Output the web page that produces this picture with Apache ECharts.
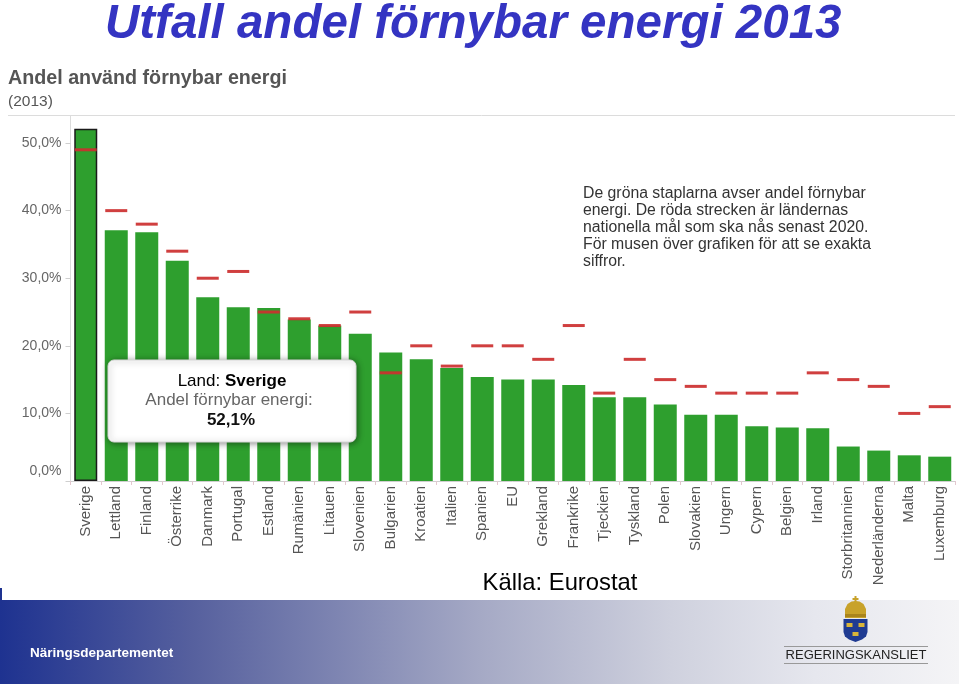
<!DOCTYPE html>
<html><head><meta charset="utf-8">
<script src="https://cdn.jsdelivr.net/npm/echarts@6/dist/echarts.min.js"></script>
<style>html,body{margin:0;padding:0;background:#fff}#c{width:959px;height:684px}</style>
</head><body><div id="c"></div>
<script>
const countries = ['Sverige','Lettland','Finland','Österrike','Danmark','Portugal','Estland','Rumänien','Litauen','Slovenien','Bulgarien','Kroatien','Italien','Spanien','EU','Grekland','Frankrike','Tjeckien','Tyskland','Polen','Slovakien','Ungern','Cypern','Belgien','Irland','Storbritannien','Nederländerna','Malta','Luxemburg'];
const shares = [52.1,37.1,36.8,32.6,27.2,25.7,25.6,23.9,23.0,21.8,19.0,18.0,16.7,15.4,15.0,15.0,14.2,12.4,12.4,11.3,9.8,9.8,8.1,7.9,7.8,5.1,4.5,3.8,3.6];
const targets = [49,40,38,34,30,31,25,24,23,25,16,20,17,20,20,18,23,13,18,15,14,13,13,13,16,15,14,10,11];
const yTickValues = [0,10,20,30,40,50];
const noteLines = ['De gröna staplarna avser andel förnybar','energi. De röda strecken är ländernas','nationella mål som ska nås senast 2020.','För musen över grafiken för att se exakta','siffror.'];

const fmt = v => v.toFixed(1).replace('.', ',') + '%';
const chart = echarts.init(document.getElementById('c'), null, {renderer: 'canvas'});
const FF = '"Liberation Sans", Arial, sans-serif';

const barData = shares.map((v, i) => i === 0
  ? {value: v, itemStyle: {borderColor: '#1a1a1a', borderWidth: 1.5}}
  : v);

chart.setOption({
  animation: false,
  backgroundColor: '#ffffff',
  textStyle: {fontFamily: FF},
  title: [{
    text: 'Utfall andel förnybar energi 2013',
    left: 100, top: -4,
    textStyle: {fontSize: 47.5, fontWeight: 'bold', fontStyle: 'italic', color: '#3434c2', fontFamily: FF}
  }, {
    text: 'Andel använd förnybar energi',
    subtext: '(2013)',
    left: 3, top: 64, itemGap: 5,
    textStyle: {fontSize: 19.7, fontWeight: 'bold', color: '#555', fontFamily: FF},
    subtextStyle: {fontSize: 15.5, color: '#555', fontFamily: FF}
  }],
  grid: {left: 70.5, right: 4, top: 116, bottom: 203, containLabel: false},
  xAxis: {
    type: 'category',
    data: countries,
    axisLine: {lineStyle: {color: '#cfcfcf'}},
    axisTick: {show: true, length: 4, lineStyle: {color: '#e3c8cf'}},
    axisLabel: {rotate: 90, margin: 5, fontSize: 15, color: '#555', fontFamily: FF, interval: 0}
  },
  yAxis: {
    type: 'value', min: 0, max: 54, interval: 10,
    splitLine: {show: false},
    axisLine: {show: true, lineStyle: {color: '#dcdcdc'}},
    axisTick: {show: true, length: 5, lineStyle: {color: '#cfcfcf'}},
    axisLabel: {
      showMaxLabel: false, margin: 9, fontSize: 14, color: '#666', fontFamily: FF,
      formatter: v => yTickValues.includes(v) ? (v === 0 ? '{z|' + fmt(v) + '}' : fmt(v)) : '',
      rich: {z: {fontSize: 14, color: '#666', fontFamily: FF, padding: [0, 0, 20, 0]}}
    }
  },
  series: [{
    type: 'bar',
    data: barData,
    barWidth: 23,
    itemStyle: {color: '#2e9f2e'},
    z: 2
  }, {
    type: 'scatter',
    data: targets,
    symbol: 'rect',
    symbolSize: [22, 3],
    itemStyle: {color: '#cc2f2f', opacity: 0.92},
    z: 3
  }],
  graphic: [
    {type: 'line', shape: {x1: 8, y1: 115.5, x2: 955, y2: 115.5}, style: {stroke: '#dcdcdc', lineWidth: 1}, z: 1},
    {type: 'rect', shape: {x: 108, y: 360, width: 248, height: 82, r: 6},
      style: {fill: '#ffffff', stroke: '#d8d8d8', lineWidth: 1, shadowBlur: 6, shadowColor: 'rgba(0,0,0,0.45)', shadowOffsetX: 1, shadowOffsetY: 1}, z: 10},
    {type: 'text', x: 232, y: 381, z: 11,
      style: {text: '{g|Land: }{b|' + countries[0] + '}', align: 'center', verticalAlign: 'middle',
        rich: {g: {fontSize: 17, color: '#666', fontFamily: FF}, b: {fontSize: 17, fontWeight: 'bold', color: '#111', fontFamily: FF}}}},
    {type: 'text', x: 229, y: 400, z: 11,
      style: {text: 'Andel förnybar energi:', fontSize: 17, fill: '#666', fontFamily: FF, align: 'center', verticalAlign: 'middle'}},
    {type: 'text', x: 231, y: 420, z: 11,
      style: {text: fmt(shares[0]), fontSize: 17, fontWeight: 'bold', fill: '#111', fontFamily: FF, align: 'center', verticalAlign: 'middle'}},
    {type: 'text', x: 583, y: 185, z: 11,
      style: {text: noteLines.join('\n'), fontSize: 15.8, lineHeight: 17, fill: '#333', fontFamily: FF, align: 'left', verticalAlign: 'top'}},
    {type: 'text', x: 560, y: 583, z: 11,
      style: {text: 'Källa: Eurostat', fontSize: 23.8, fill: '#000', fontFamily: FF, align: 'center', verticalAlign: 'middle'}},
    {type: 'rect', shape: {x: 0, y: 600, width: 959, height: 84}, z: 0,
      style: {fill: {type: 'linear', x: 0, y: 0, x2: 1, y2: 0, colorStops: [
        {offset: 0, color: '#1e3290'},
        {offset: 0.2, color: '#56609e'},
        {offset: 0.5, color: '#a5a9c5'},
        {offset: 0.7, color: '#cfd1de'},
        {offset: 0.85, color: '#e6e7ee'},
        {offset: 1, color: '#f4f4f6'}
      ]}}},
    {type: 'rect', shape: {x: 0, y: 588, width: 2, height: 12}, style: {fill: '#1e3290'}, z: 1},
    {type: 'text', x: 30, y: 653, z: 2,
      style: {text: 'Näringsdepartementet', fontSize: 13.5, fontWeight: 'bold', fill: '#ffffff', fontFamily: FF, align: 'left', verticalAlign: 'middle'}},
    {type: 'polygon', z: 3, shape: {points: [[843.5,619],[867.5,619],[867.5,632],[866,636.5],[862,639.5],[855.5,642],[849,639.5],[845,636.5],[843.5,632]]}, style: {fill: '#1f3b92'}},
    {type: 'polygon', z: 3, shape: {points: [[845,618],[845,609],[847.5,604],[851.5,601.5],[855.5,601],[859.5,601.5],[863.5,604],[866,609],[866,618]]}, style: {fill: '#c8a22a'}},
    {type: 'rect', z: 4, shape: {x: 845, y: 614, width: 21, height: 3}, style: {fill: '#a9841c'}},
    {type: 'rect', z: 4, shape: {x: 854.5, y: 596, width: 2, height: 6}, style: {fill: '#c8a22a'}},
    {type: 'rect', z: 4, shape: {x: 852.5, y: 598, width: 6, height: 2}, style: {fill: '#c8a22a'}},
    {type: 'rect', z: 4, shape: {x: 846.5, y: 623, width: 6, height: 4}, style: {fill: '#d9b53a'}},
    {type: 'rect', z: 4, shape: {x: 858.5, y: 623, width: 6, height: 4}, style: {fill: '#d9b53a'}},
    {type: 'rect', z: 4, shape: {x: 852.5, y: 632, width: 6, height: 4}, style: {fill: '#d9b53a'}},
    {type: 'line', z: 3, shape: {x1: 784, y1: 646.5, x2: 928, y2: 646.5}, style: {stroke: '#999', lineWidth: 1}},
    {type: 'line', z: 3, shape: {x1: 784, y1: 663.5, x2: 928, y2: 663.5}, style: {stroke: '#999', lineWidth: 1}},
    {type: 'text', x: 856, y: 655, z: 3,
      style: {text: 'REGERINGSKANSLIET', fontSize: 13, fill: '#222', fontFamily: FF, align: 'center', verticalAlign: 'middle'}}
  ]
});
</script>
</body></html>
